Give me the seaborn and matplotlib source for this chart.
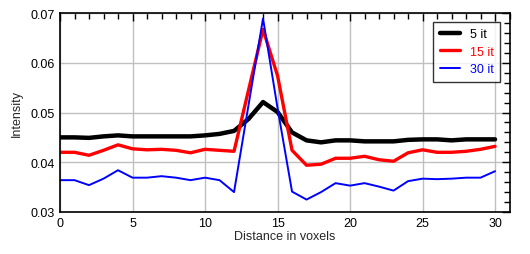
import numpy as np
import pandas as pd
import matplotlib
matplotlib.use("Agg")
import matplotlib.pyplot as plt
import seaborn as sns
from matplotlib.ticker import MultipleLocator

distance = list(range(31))
it5 = [0.0450, 0.0450, 0.0449, 0.0452, 0.0454, 0.0452, 0.0452, 0.0452, 0.0452, 0.0452,
       0.0454, 0.0457, 0.0463, 0.0487, 0.0521, 0.0501, 0.0460, 0.0444, 0.0440, 0.0444,
       0.0444, 0.0442, 0.0442, 0.0442, 0.0445, 0.0446, 0.0446, 0.0444, 0.0446, 0.0446, 0.0446]
it15 = [0.0420, 0.0420, 0.0414, 0.0424, 0.0435, 0.0427, 0.0425, 0.0426, 0.0424, 0.0419,
        0.0426, 0.0424, 0.0422, 0.0545, 0.0667, 0.0574, 0.0424, 0.0394, 0.0396, 0.0408,
        0.0408, 0.0412, 0.0405, 0.0402, 0.0419, 0.0425, 0.0420, 0.0420, 0.0422, 0.0426, 0.0432]
it30 = [0.0364, 0.0364, 0.0354, 0.0367, 0.0384, 0.0369, 0.0369, 0.0372, 0.0369, 0.0364,
        0.0369, 0.0364, 0.0340, 0.0515, 0.0689, 0.0509, 0.0341, 0.0325, 0.0340, 0.0358,
        0.0353, 0.0358, 0.0351, 0.0343, 0.0362, 0.0367, 0.0366, 0.0367, 0.0369, 0.0369, 0.0382]
labels = ["5 it", "15 it", "30 it"]
colors = ["#000000", "#ff0000", "#0000ff"]
widths = [3.2, 2.4, 1.4]

sns.set_style("white")
plt.rcParams['font.family'] = ['Liberation Sans', 'DejaVu Sans']

df = pd.DataFrame({"Distance": distance * 3,
                   "Intensity": it5 + it15 + it30,
                   "series": [labels[0]] * 31 + [labels[1]] * 31 + [labels[2]] * 31})

fig = plt.figure(figsize=(5.30, 2.55), dpi=100)
ax = fig.add_axes([60/530, 42/255, 450/530, 199/255])
for lab, c, w in zip(labels, colors, widths):
    sns.lineplot(data=df[df.series == lab], x="Distance", y="Intensity", color=c,
                 linewidth=w, label=lab, ax=ax)

ax.set_xlim(0, 31.03)
ax.set_ylim(0.03, 0.07)
ax.xaxis.set_major_locator(MultipleLocator(5))
ax.xaxis.set_minor_locator(MultipleLocator(1))
ax.yaxis.set_major_locator(MultipleLocator(0.01))
ax.yaxis.set_minor_locator(MultipleLocator(0.002))
ax.set_xticks([0, 5, 10, 15, 20, 25, 30])
ax.set_yticks([0.03, 0.04, 0.05, 0.06, 0.07])
ax.set_yticklabels(["0.03", "0.04", "0.05", "0.06", "0.07"])
ax.grid(True, which="major", color="#c0c0c0", linewidth=1)
ax.tick_params(which="both", direction="in", top=True, right=True, labelsize=9, colors="black")
ax.tick_params(which="major", length=6, width=1)
ax.tick_params(which="minor", length=4, width=1)
for s in ax.spines.values():
    s.set_color("black")
    s.set_linewidth(1.2)
ax.set_xlabel("Distance in voxels", fontsize=9, labelpad=1)
ax.set_ylabel("Intensity", fontsize=9, labelpad=6)

leg = ax.legend(loc="upper right", bbox_to_anchor=(0.977, 0.955), fontsize=9, frameon=True,
                fancybox=False, edgecolor="black", handlelength=1.6, borderpad=0.5,
                labelspacing=0.45, handletextpad=0.8, borderaxespad=0)
leg.get_frame().set_linewidth(1)
for t, c in zip(leg.get_texts(), colors):
    t.set_color(c)

fig.savefig("out.png", dpi=100)
